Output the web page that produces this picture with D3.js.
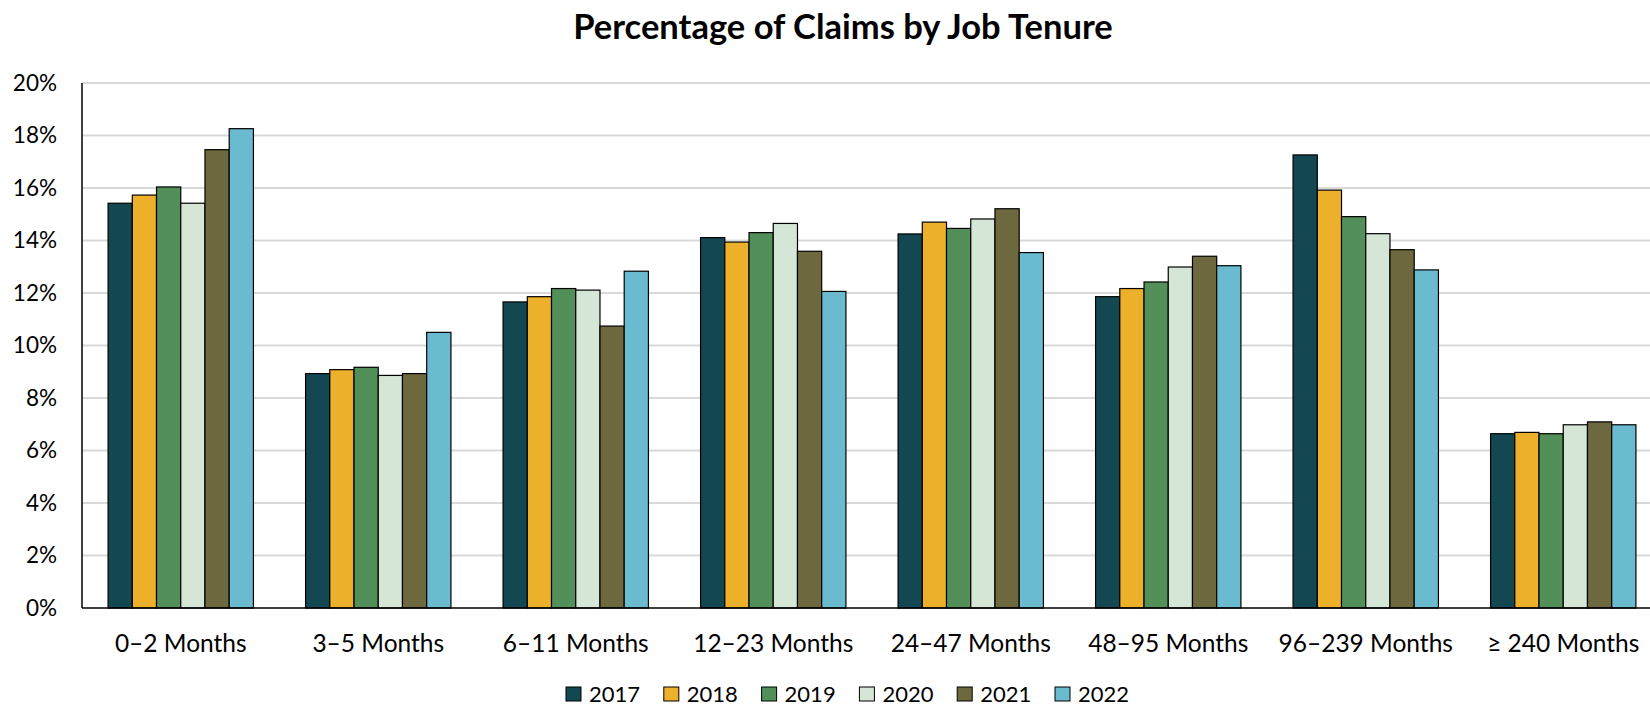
<!DOCTYPE html>
<html>
<head>
<meta charset="utf-8">
<script src="https://cdn.jsdelivr.net/npm/d3@7"></script>
<style>
  html, body { margin: 0; padding: 0; background: #fff; }
  svg { display: block; font-family: Lato, "Open Sans", sans-serif; }
</style>
</head>
<body>
<div id="chart"></div>
<script>
// tenure groups on the x axis
const categories = ["0–2 Months", "3–5 Months", "6–11 Months", "12–23 Months",
  "24–47 Months", "48–95 Months", "96–239 Months", "≥ 240 Months"];
const years = ["2017", "2018", "2019", "2020", "2021", "2022"];
const colors = ["#134853", "#ecb02a", "#528f59", "#d5e6d7", "#6e683e", "#6abbd0"];

// percent of claims, one array per year (order follows categories)
const v2017 = [15.42, 8.93, 11.66, 14.11, 14.25, 11.86, 17.26, 6.64];
const v2018 = [15.73, 9.08, 11.86, 13.94, 14.70, 12.17, 15.92, 6.69];
const v2019 = [16.04, 9.17, 12.17, 14.30, 14.46, 12.42, 14.91, 6.64];
const v2020 = [15.42, 8.86, 12.11, 14.65, 14.82, 12.99, 14.26, 6.98];
const v2021 = [17.46, 8.93, 10.74, 13.59, 15.21, 13.40, 13.65, 7.09];
const v2022 = [18.26, 10.50, 12.83, 12.06, 13.54, 13.04, 12.88, 6.98];
const series = [v2017, v2018, v2019, v2020, v2021, v2022];

const yTicks = [0, 2, 4, 6, 8, 10, 12, 14, 16, 18, 20];

const W = 1650, H = 708;
const plotLeft = 82, plotRight = 1650, plotTop = 83, plotBottom = 608;

const svg = d3.select("#chart").append("svg")
  .attr("width", W).attr("height", H);

const x = d3.scaleBand()
  .domain(categories)
  .range([plotLeft, plotLeft + categories.length * 197.5])
  .paddingInner(0.264)
  .paddingOuter(0.132);

const xSub = d3.scaleBand()
  .domain(years)
  .range([0, x.bandwidth()]);

const y = d3.scaleLinear().domain([0, 20]).range([plotBottom, plotTop]);

// gridlines
svg.append("g")
  .selectAll("line")
  .data(yTicks.filter(d => d > 0))
  .enter().append("line")
  .attr("x1", plotLeft).attr("x2", plotRight)
  .attr("y1", d => y(d)).attr("y2", d => y(d))
  .attr("stroke", "#d9d9d9")
  .attr("stroke-width", 2);

// y tick labels
svg.append("g")
  .selectAll("text")
  .data(yTicks)
  .enter().append("text")
  .attr("x", 57)
  .attr("y", d => y(d))
  .attr("dy", "0.35em")
  .attr("text-anchor", "end")
  .style("font-size", "22.5px")
  .style("fill", "#000")
  .text(d => d + "%");

// bars
const groups = svg.append("g")
  .selectAll("g")
  .data(categories)
  .enter().append("g")
  .attr("transform", d => `translate(${x(d)},0)`);

groups.selectAll("rect")
  .data((d, i) => years.map((yr, j) => ({ year: yr, value: series[j][i], k: j })))
  .enter().append("rect")
  .attr("x", d => xSub(d.year))
  .attr("y", d => y(d.value))
  .attr("width", xSub.bandwidth())
  .attr("height", d => plotBottom - y(d.value))
  .attr("fill", d => colors[d.k])
  .attr("stroke", "#000")
  .attr("stroke-width", 1.2);

// axis lines
svg.append("line")
  .attr("x1", plotLeft).attr("x2", plotLeft)
  .attr("y1", plotTop).attr("y2", plotBottom)
  .attr("stroke", "#000").attr("stroke-width", 1.5);
svg.append("line")
  .attr("x1", plotLeft).attr("x2", plotRight)
  .attr("y1", plotBottom).attr("y2", plotBottom)
  .attr("stroke", "#000").attr("stroke-width", 1.5);

// category labels
svg.append("g")
  .selectAll("text")
  .data(categories)
  .enter().append("text")
  .attr("x", d => x(d) + x.bandwidth() / 2)
  .attr("y", 652)
  .attr("text-anchor", "middle")
  .style("font-size", "24.5px")
  .style("fill", "#000")
  .text(d => d);

// title
svg.append("text")
  .attr("x", 843)
  .attr("y", 39)
  .attr("text-anchor", "middle")
  .style("font-size", "34.5px")
  .style("font-weight", "bold")
  .style("fill", "#000")
  .text("Percentage of Claims by Job Tenure");

// legend
const legend = svg.append("g")
  .selectAll("g")
  .data(years)
  .enter().append("g")
  .attr("transform", (d, i) => `translate(${566 + i * 97.8},687)`);

legend.append("rect")
  .attr("width", 15).attr("height", 14)
  .attr("fill", (d, i) => colors[i])
  .attr("stroke", "#000")
  .attr("stroke-width", 1);

legend.append("text")
  .attr("x", 23)
  .attr("y", 7)
  .attr("dy", "0.35em")
  .style("font-size", "22px")
  .style("fill", "#000")
  .text(d => d);
</script>
</body>
</html>
